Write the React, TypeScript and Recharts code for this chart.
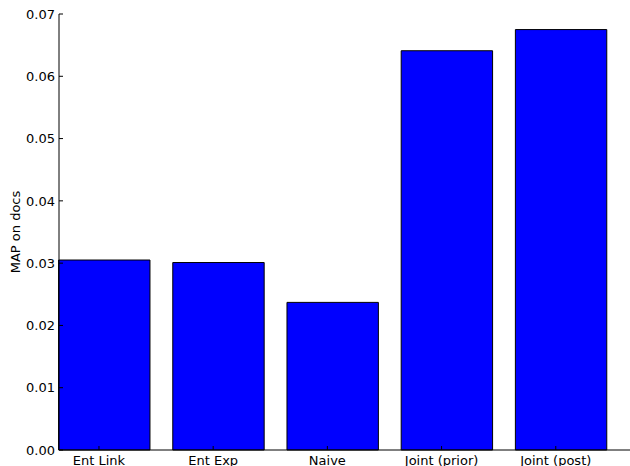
import React from "react"
import { BarChart, Bar, XAxis, YAxis } from "recharts"

const categories = ["Ent Link", "Ent Exp", "Naive", "Joint (prior)", "Joint (post)"]
const mapValues = [0.0305, 0.0301, 0.0237, 0.0641, 0.0675]
const yTicks = [0, 0.01, 0.02, 0.03, 0.04, 0.05, 0.06, 0.07]

// bars sit at i + 0.4 (edge-aligned, width 0.8); tick labels at i + 0.35 like the original plot
const data = categories.map((name, i) => ({ name, pos: i + 0.4, value: mapValues[i] }))
const xTicks = categories.map((_, i) => i + 0.35)

const FONT = "DejaVu Sans"
const TICK_LEN = 4

function LeftTick(props: any) {
  const { x, y, payload } = props
  return (
    <g>
      <line x1={x + 4} x2={x + 4 + TICK_LEN} y1={y} y2={y} stroke="#000" />
      <text x={x} y={y} dy="0.36em" textAnchor="end" fontSize={13} fontFamily={FONT} fill="#000">
        {Number(payload.value).toFixed(2)}
      </text>
    </g>
  )
}

function RightTick(props: any) {
  const { x, y } = props
  return <line x1={x} x2={x - TICK_LEN} y1={y} y2={y} stroke="#000" />
}

function BottomTick(props: any) {
  const { x, y, payload } = props
  const label = categories[Math.floor(payload.value)]
  return (
    <g>
      <line x1={x} x2={x} y1={y} y2={y - TICK_LEN} stroke="#000" />
      <text x={x} y={y + 14.5} textAnchor="middle" fontSize={13} fontFamily={FONT} fill="#000">
        {label}
      </text>
    </g>
  )
}

function TopTick(props: any) {
  const { x, y } = props
  return <line x1={x} x2={x} y1={y} y2={y + TICK_LEN} stroke="#000" />
}

function YLabel(props: any) {
  const { viewBox } = props
  const cy = viewBox.y + viewBox.height / 2
  const bx = 20
  return (
    <text
      x={bx}
      y={cy}
      transform={`rotate(-90, ${bx}, ${cy})`}
      textAnchor="middle"
      fontSize={13}
      fontFamily={FONT}
      fill="#000"
    >
      MAP on docs
    </text>
  )
}

export default function App() {
  return (
    <div style={{ position: "absolute", left: 0, top: 0, background: "#fff" }}>
      <BarChart
        width={630}
        height={466}
        data={data}
        margin={{ top: 14, right: 0, bottom: 0, left: 0 }}
      >
        <XAxis
          dataKey="pos"
          type="number"
          domain={[0, 5]}
          ticks={xTicks}
          tick={BottomTick}
          tickSize={0}
          tickMargin={0}
          height={16}
          axisLine={{ stroke: "#000" }}
        />
        <XAxis
          xAxisId="top"
          orientation="top"
          dataKey="pos"
          type="number"
          domain={[0, 5]}
          ticks={xTicks}
          tick={TopTick}
          tickSize={0}
          tickMargin={0}
          height={0}
          axisLine={{ stroke: "#000" }}
        />
        <YAxis
          type="number"
          domain={[0, 0.07]}
          ticks={yTicks}
          tick={LeftTick}
          tickSize={0}
          tickMargin={4}
          width={59}
          axisLine={{ stroke: "#000" }}
          label={<YLabel />}
        />
        <YAxis
          yAxisId="right"
          orientation="right"
          type="number"
          domain={[0, 0.07]}
          ticks={yTicks}
          tick={RightTick}
          tickSize={0}
          tickMargin={0}
          width={0}
          axisLine={false}
        />
        <Bar
          dataKey="value"
          barSize={91.4}
          fill="#0000ff"
          stroke="#000"
          strokeWidth={1}
          isAnimationActive={false}
        />
      </BarChart>
    </div>
  )
}
